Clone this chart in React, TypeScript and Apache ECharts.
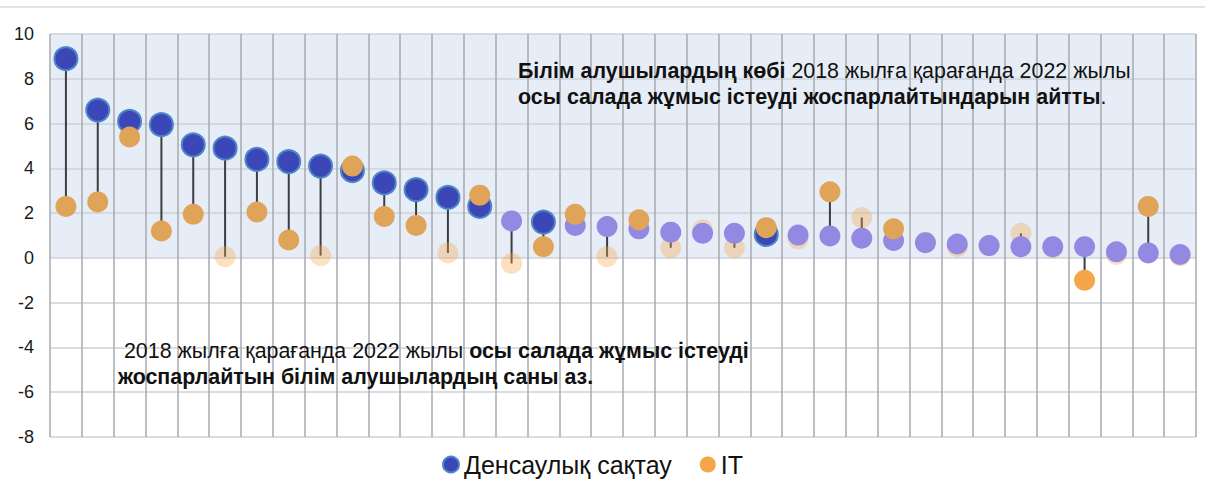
import React, { useEffect, useRef } from "react";
import * as echarts from "echarts";

const categories = Array.from({ length: 36 }, (_, i) => String(i + 1));

const health = [8.9, 6.6, 6.1, 5.95, 5.05, 4.9, 4.4, 4.3, 4.1, 3.9, 3.35, 3.05, 2.7, 2.3, 1.65, 1.6, 1.45, 1.4, 1.3, 1.15, 1.1, 1.1, 1.05, 1.02, 0.98, 0.88, 0.78, 0.68, 0.62, 0.55, 0.5, 0.5, 0.5, 0.27, 0.22, 0.15];
const it = [2.3, 2.5, 5.4, 1.2, 1.95, 0.05, 2.05, 0.8, 0.1, 4.1, 1.85, 1.45, 0.22, 2.8, -0.25, 0.5, 1.95, 0.05, 1.7, 0.45, 1.25, 0.45, 1.35, 0.85, 2.95, 1.8, 1.3, 0.7, 0.5, 0.55, 1.1, 0.45, -1.0, 0.15, 2.3, 0.1];

// 1 = significant change, 0 = not significant
const healthSig = [1, 1, 1, 1, 1, 1, 1, 1, 1, 1, 1, 1, 1, 1, 0, 1, 0, 0, 0, 0, 0, 0, 1, 0, 0, 0, 0, 0, 0, 0, 0, 0, 0, 0, 0, 0];
const itSig = [1, 1, 1, 1, 1, 0, 1, 1, 0, 1, 1, 1, 0, 1, 0, 1, 1, 0, 1, 0, 0, 0, 1, 0, 1, 0, 1, 0, 0, 0, 0, 0, 1, 0, 1, 0];

const yTicks = { min: -8, max: 10, interval: 2 };

const HEALTH_DARK = "#3B47B7";
const HEALTH_BORDER = "#4F86C8";
const HEALTH_LIGHT = "#9489E2";
const IT_ORANGE = "#E0A458";
const IT_BRIGHT = "#F5A54A";
const IT_PALE = "rgba(245,165,74,0.35)";

export default function App() {
  const ref = useRef<HTMLDivElement>(null);
  useEffect(() => {
    const chart = echarts.init(ref.current!, null, { renderer: "svg" });
    const healthData = health.map((v, i) =>
      healthSig[i]
        ? { value: [i, v], symbolSize: 23, itemStyle: { color: HEALTH_DARK, borderColor: HEALTH_BORDER, borderWidth: 2, opacity: 1 } }
        : { value: [i, v], symbolSize: 21, itemStyle: { color: HEALTH_LIGHT, opacity: 1 } }
    );
    const itSigData = it.map((v, i) =>
      itSig[i] ? { value: [i, v], itemStyle: { color: v < 0 ? IT_BRIGHT : IT_ORANGE, opacity: 1 } } : null
    ).filter(Boolean);
    const itNsData = it.map((v, i) => (!itSig[i] ? [i, v] : null)).filter(Boolean);
    const stemData = categories.map((_, i) => [i, health[i], it[i]]);

    const font = "'Liberation Sans', Arial, sans-serif";
    const rich = {
      b: { fontSize: 21.4, fontWeight: "bold", fill: "#111", lineHeight: 26, fontFamily: font },
      n: { fontSize: 21.4, fill: "#111", lineHeight: 26, fontFamily: font },
    };
    chart.setOption({
      animation: false,
      backgroundColor: "#fff",
      textStyle: { fontFamily: font },
      grid: { left: 50, right: 9, top: 34, bottom: 65 },
      xAxis: {
        type: "category",
        data: categories,
        boundaryGap: true,
        axisLine: { show: false },
        axisTick: { show: false },
        axisLabel: { show: false },
        splitLine: { show: true, lineStyle: { color: "#A7AAAE", width: 1.5 } },
      },
      yAxis: {
        type: "value",
        min: yTicks.min,
        max: yTicks.max,
        interval: yTicks.interval,
        axisLine: { show: false },
        axisTick: { show: false },
        axisLabel: { color: "#1a1a1a", fontSize: 18, margin: 16, fontFamily: font },
        splitLine: { show: true, lineStyle: { color: "#CDD2D8", width: 1.5 } },
      },
      legend: {
        bottom: 20,
        left: 437,
        icon: "circle",
        itemWidth: 16,
        itemHeight: 16,
        itemGap: 28,
        textStyle: { fontSize: 25, color: "#111", fontFamily: font },
        data: [
          { name: "Денсаулық сақтау", itemStyle: { color: HEALTH_DARK, borderColor: HEALTH_BORDER, borderWidth: 2 } },
          { name: "IT", itemStyle: { color: IT_BRIGHT } },
        ],
      },
      graphic: [
        { type: "line", shape: { x1: 0, y1: 7, x2: 1205, y2: 7 }, style: { stroke: "#DADADA", lineWidth: 1.5 } },
        {
          type: "text",
          left: 518,
          top: 60,
          z: 50,
          style: {
            text: "{b|Білім алушылардың көбі}{n| 2018 жылға қарағанда 2022 жылы}\n{b|осы салада жұмыс істеуді жоспарлайтындарын айтты}{n|.}",
            rich,
          },
        },
        {
          type: "text",
          left: 118,
          top: 340,
          z: 50,
          style: {
            text: "{n| 2018 жылға қарағанда 2022 жылы }{b|осы салада жұмыс істеуді}\n{b|жоспарлайтын білім алушылардың саны аз.}",
            rich,
          },
        },
      ],
      series: [
        {
          type: "custom",
          name: "stems",
          z: 1,
          data: stemData,
          encode: { x: 0, y: [1, 2] },
          renderItem: (params: any, api: any) => {
            const p1 = api.coord([api.value(0), api.value(1)]);
            const p2 = api.coord([api.value(0), api.value(2)]);
            return {
              type: "line",
              shape: { x1: p1[0], y1: p1[1], x2: p2[0], y2: p2[1] },
              style: { stroke: "#3A3D42", lineWidth: 2 },
            };
          },
          markArea: {
            silent: true,
            z: -1,
            itemStyle: { color: "#E7EDF6" },
            data: [[{ yAxis: 0 }, { yAxis: 10 }]],
          },
        },
        {
          type: "scatter",
          name: "IT (ns)",
          z: 2,
          symbolSize: 21,
          itemStyle: { color: IT_PALE, opacity: 1 },
          data: itNsData,
        },
        {
          type: "scatter",
          name: "Денсаулық сақтау",
          z: 3,
          data: healthData,
          itemStyle: { color: HEALTH_DARK, opacity: 1 },
        },
        {
          type: "scatter",
          name: "IT",
          z: 4,
          symbolSize: 21,
          itemStyle: { color: IT_ORANGE, opacity: 1 },
          data: itSigData,
        },
      ],
    });
    return () => chart.dispose();
  }, []);
  return <div ref={ref} style={{ position: "fixed", left: 0, top: 0, width: 1205, height: 502 }} />;
}
